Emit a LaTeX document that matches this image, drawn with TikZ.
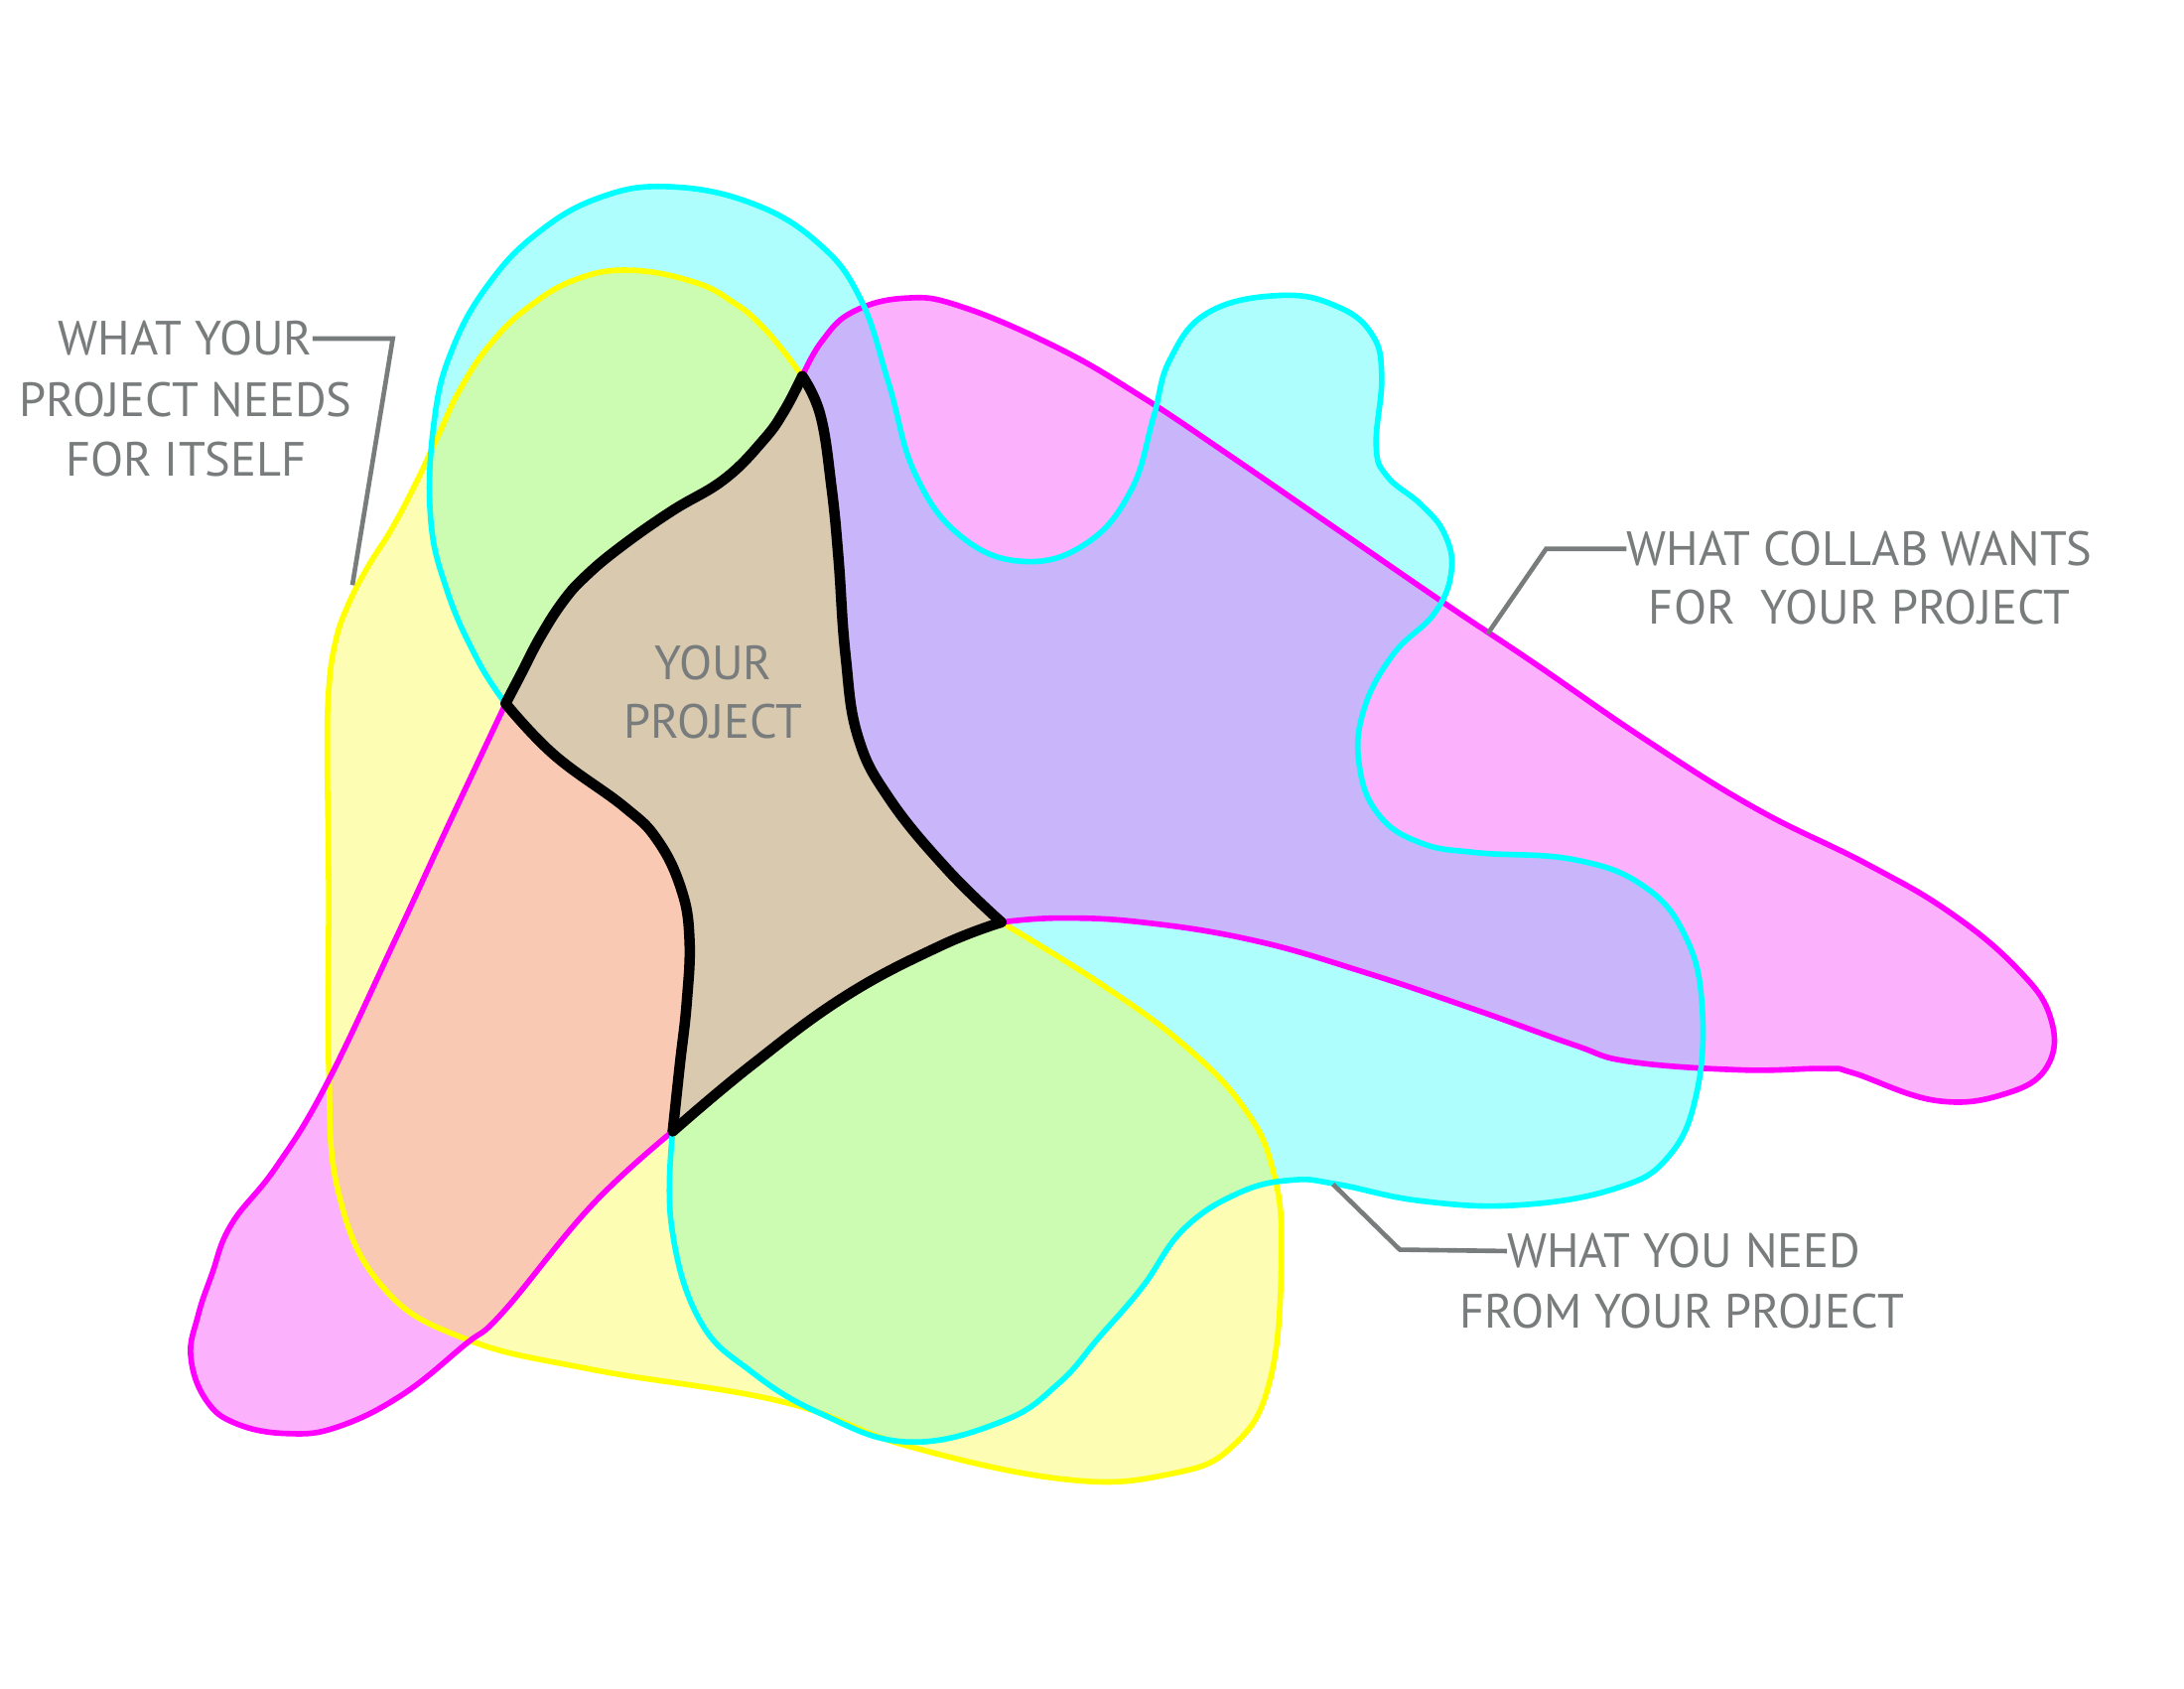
\documentclass[tikz,border=0pt]{standalone}
\usepackage{fontspec}
\setmainfont{PT Sans}
\definecolor{yfill}{HTML}{FDFDB3}
\definecolor{cfill}{HTML}{AEFEFE}
\definecolor{mfill}{HTML}{FBB1FB}
\definecolor{gfill}{HTML}{CBFCB1}
\definecolor{lfill}{HTML}{C9B5FA}
\definecolor{pfill}{HTML}{FAC9B3}
\definecolor{tfill}{HTML}{D8C9AF}
\definecolor{yline}{HTML}{FFFF00}
\definecolor{cline}{HTML}{00FFFF}
\definecolor{mline}{HTML}{FF00FF}
\definecolor{txt}{HTML}{787C7C}
\tikzset{
  outl/.style={line width=4pt, line join=round, line cap=round},
  blk/.style={line width=7.5pt, black, line join=round, line cap=round},
  leader/.style={line width=3.3pt, txt, line join=miter},
  lbl/.style={inner sep=0pt, text=txt, font=\fontsize{34.5}{40}\selectfont},
}
% pieces
\def\YA{plot[smooth,tension=0.7] coordinates {(576,270) (561,250) (545,232) (528,218) (500,203) (454,194) (415,200) (380,220) (352,247) (330,280) (314,314) (298,348) (281,380) (264,407) (250,434) (241,460) (236,495) (235,545) (236,640) (236,765) (243,856) (275,924) (334,961) (425,983) (561,1006) (652,1038) (766,1062) (840,1058) (885,1038) (912,990) (920,900) (914,840) (893,795) (850,750) (790,706) (719,662)}}
\def\MA{plot[smooth,tension=0.7] coordinates {(576,270) (590,245) (612,224) (650,214) (690,220) (760,250) (820,285) (880,325) (960,380) (1040,435) (1100,475) (1180,530) (1260,580) (1340,620) (1400,655) (1448,695) (1472,730) (1470,765) (1440,785) (1390,790) (1330,770) (1310,767) (1250,768) (1170,762) (1130,750) (1060,725) (980,698) (900,675) (820,662) (760,659) (719,662)}}
\def\MB{plot[smooth,tension=0.7] coordinates {(483,812) (425,865) (361,942) (334,965) (289,1001) (243,1024) (207,1029) (170,1022) (148,1005) (137,974) (142,945) (152,915) (166,879) (198,838) (234,779) (284,674) (322,592) (363,505)}}
\def\CA{plot[smooth,tension=0.7] coordinates {(363,505) (343,474) (321,424) (309,370) (312,300) (325,250) (350,205) (385,168) (430,142) (480,134) (540,146) (588,175) (618,215) (638,275) (657,340) (690,385) (735,403) (780,390) (812,352) (828,300) (840,258) (868,224) (920,212) (960,220) (985,240) (992,270) (988,320) (996,342) (1020,362) (1037,383) (1042,410) (1030,440) (1000,470) (979,510) (976,550) (990,585) (1020,605) (1060,612) (1130,617) (1180,636) (1210,672) (1222,722) (1218,785) (1198,830) (1160,853) (1090,865) (1020,862) (960,850) (928,847) (890,856) (850,882) (820,924) (789,960) (760,993) (720,1020) (652,1035) (590,1015) (540,985) (502,947) (482,879) (483,812)}}
\def\BTL{plot[smooth,tension=0.7] coordinates {(576,270) (563,295) (548,316) (520,344) (482,367) (445,393) (420,414) (404,432) (388,457) (375,482) (363,505)}}
\def\BTLr{plot[smooth,tension=0.7] coordinates {(363,505) (375,482) (388,457) (404,432) (420,414) (445,393) (482,367) (520,344) (548,316) (563,295) (576,270)}}
\def\BBL{plot[smooth,tension=0.7] coordinates {(363,505) (398,542) (448,579) (472,603) (489,638) (495,674) (493,720) (488,765) (483,812)}}
\def\BBLr{plot[smooth,tension=0.7] coordinates {(483,812) (488,765) (493,720) (495,674) (489,638) (472,603) (448,579) (398,542) (363,505)}}
\def\BBR{plot[smooth,tension=0.7] coordinates {(483,812) (539,765) (607,715) (675,679) (719,662)}}
\def\BBRr{plot[smooth,tension=0.7] coordinates {(719,662) (675,679) (607,715) (539,765) (483,812)}}
\def\BR{plot[smooth,tension=0.7] coordinates {(576,270) (589,298) (597,350) (602,401) (607,470) (616,529) (639,574) (680,624) (719,662)}}
\def\BRr{plot[smooth,tension=0.7] coordinates {(719,662) (680,624) (639,574) (616,529) (607,470) (602,401) (597,350) (589,298) (576,270)}}
\edef\Ypath{\YA -- \BRr -- cycle}
\edef\Cpath{\CA -- \BBLr -- cycle}
\edef\Mpath{\MA -- \BBRr -- \MB -- \BTLr -- cycle}
\begin{document}
\begin{tikzpicture}[x=1pt,y=-1pt]
\useasboundingbox[fill=white] (0,0) rectangle (1568,1212);
% base fills
\fill[yfill] \Ypath;
\fill[cfill] \Cpath;
\fill[mfill] \Mpath;
% overlaps
\begin{scope}\clip \Ypath; \fill[gfill] \Cpath; \end{scope}
\begin{scope}\clip \Ypath; \fill[pfill] \Mpath; \end{scope}
\begin{scope}\clip \Cpath; \fill[lfill] \Mpath; \end{scope}
\begin{scope}\clip \Ypath; \clip \Cpath; \fill[tfill] \Mpath; \end{scope}
% outlines
\draw[outl, yline] \YA;
\draw[outl, mline] \MA;
\draw[outl, mline] \MB;
\draw[outl, cline] \CA;
% black edges
\draw[blk] \BTL;
\draw[blk] \BBL;
\draw[blk] \BBR;
\draw[blk] \BR;
% labels
\node[lbl] (l1) at (133,243) {WHAT YOUR};
\node[lbl] (l2) at (133.5,287) {PROJECT NEEDS};
\node[lbl] (l3) at (133.5,330) {FOR ITSELF};
\node[lbl] (r1) at (1335,394) {WHAT COLLAB WANTS};
\node[lbl] (r2) at (1335,436) {FOR~ YOUR PROJECT};
\node[lbl] (b1) at (1209,898) {WHAT YOU NEED};
\node[lbl] (b2) at (1207.5,941) {FROM YOUR PROJECT};
\node[lbl] (c1) at (512,476) {YOUR};
\node[lbl] (c2) at (512,518) {PROJECT};
% leaders
\coordinate (lc) at (282,243);
\coordinate (le) at (253,420);
\coordinate (rc) at (1110,394);
\coordinate (re) at (1068,455);
\coordinate (bc) at (1005,897);
\coordinate (be) at (957,850);
\draw[leader] (l1.east) -- (lc) -- (le);
\draw[leader] (r1.west) -- (rc) -- (re);
\draw[leader] (b1.west) -- (bc) -- (be);
\end{tikzpicture}
\end{document}
